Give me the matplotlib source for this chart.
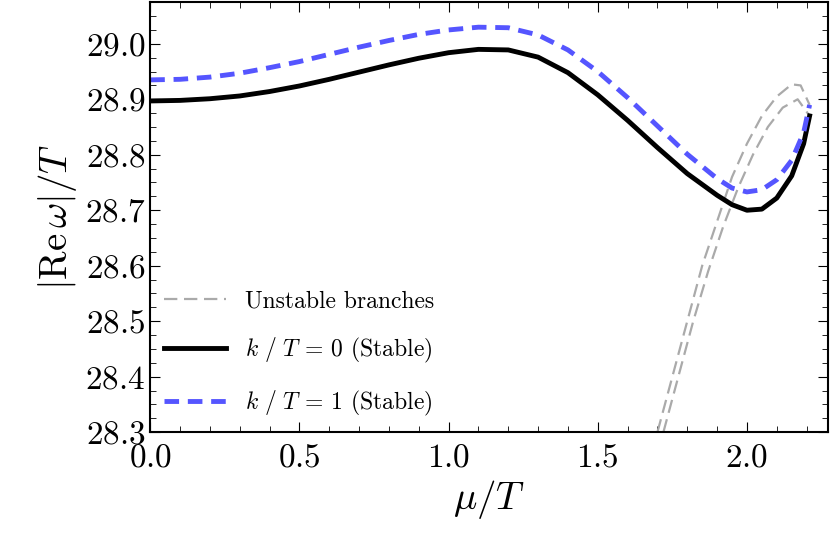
import matplotlib
matplotlib.use("Agg")
import matplotlib.pyplot as plt
from matplotlib.ticker import MultipleLocator, AutoMinorLocator

plt.rcParams['font.family'] = ['cmr10', 'DejaVu Serif']
plt.rcParams['mathtext.fontset'] = 'cm'
plt.rcParams['axes.formatter.use_mathtext'] = True

mu_stable = [0, 0.1, 0.2, 0.3, 0.4, 0.5, 0.6, 0.7, 0.8, 0.9, 1.0, 1.1, 1.2, 1.3, 1.4, 1.5,
             1.6, 1.7, 1.8, 1.9, 1.95, 2.0, 2.05, 2.1, 2.15, 2.19, 2.21]
re_k0 = [28.897, 28.898, 28.901, 28.906, 28.914, 28.924, 28.936, 28.949, 28.962, 28.974, 28.984,
         28.990, 28.989, 28.976, 28.948, 28.908, 28.862, 28.813, 28.766, 28.727, 28.710, 28.700,
         28.702, 28.722, 28.762, 28.82, 28.87]
re_k1 = [28.935, 28.936, 28.940, 28.947, 28.957, 28.968, 28.981, 28.994, 29.006, 29.017, 29.025,
         29.030, 29.029, 29.016, 28.989, 28.950, 28.903, 28.852, 28.801, 28.757, 28.740, 28.733,
         28.737, 28.755, 28.790, 28.84, 28.89]
mu_un1 = [1.70, 1.75, 1.80, 1.85, 1.90, 1.95, 2.0, 2.05, 2.1, 2.15, 2.18, 2.21]
re_un1 = [28.30, 28.40, 28.50, 28.60, 28.68, 28.76, 28.82, 28.87, 28.905, 28.927, 28.925, 28.89]
mu_un2 = [1.72, 1.77, 1.82, 1.87, 1.92, 1.97, 2.02, 2.07, 2.12, 2.17, 2.21]
re_un2 = [28.30, 28.40, 28.50, 28.59, 28.67, 28.74, 28.80, 28.85, 28.885, 28.90, 28.87]

fig = plt.figure(figsize=(8.3, 5.54), dpi=100)
ax = fig.add_axes([0.181, 0.22, 0.816, 0.776])
ax.plot(mu_un1, re_un1, color='#aaaaaa', ls=(0, (6, 3)), lw=1.6, label='Unstable branches')
ax.plot(mu_un2, re_un2, color='#aaaaaa', ls=(0, (6, 3)), lw=1.6)
ax.plot(mu_stable, re_k0, color='black', lw=3.5, label=r'$k\ /\ T$ = 0 (Stable)')
ax.plot(mu_stable, re_k1, color='#5555ff', lw=3.5, ls=(0, (3, 1.8)), label=r'$k\ /\ T$ = 1 (Stable)')

ax.set_xlim(0, 2.27)
ax.set_ylim(28.3, 29.075)
ax.xaxis.set_major_locator(MultipleLocator(0.5))
ax.xaxis.set_minor_locator(MultipleLocator(0.1))
ax.yaxis.set_major_locator(MultipleLocator(0.1))
ax.yaxis.set_minor_locator(AutoMinorLocator(4))
ax.tick_params(which='both', direction='in', top=True, right=True, labelsize=24)
ax.tick_params(axis='x', pad=8)
ax.tick_params(which='major', length=7)
ax.tick_params(which='minor', length=4)
for s in ax.spines.values():
    s.set_linewidth(1.5)
ax.set_xlabel(r'$\mu/T$', fontsize=28)
ax.set_ylabel(r'$|\mathrm{Re}\,\omega|/T$', fontsize=28)
ax.legend(loc='lower left', frameon=False, fontsize=17, handlelength=2.6,
          labelspacing=1.0, borderaxespad=0.2)
fig.savefig('out.png')
